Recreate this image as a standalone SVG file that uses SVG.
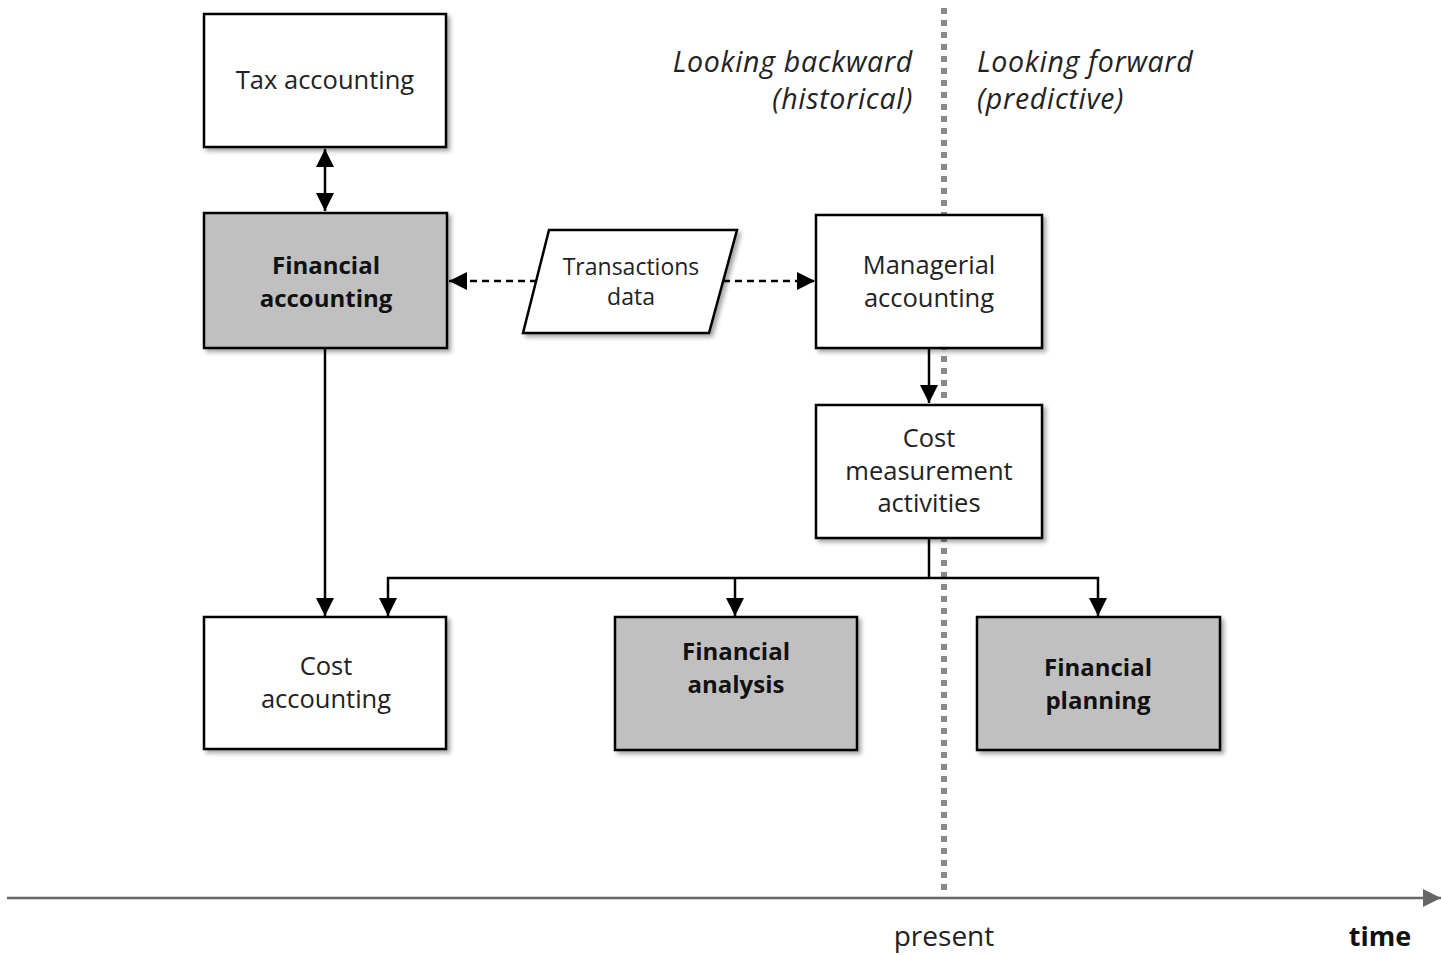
<svg xmlns="http://www.w3.org/2000/svg" width="1441" height="955" viewBox="0 0 1441 955">
<style>
.box{stroke:#000;stroke-width:2.5;filter:url(#sh)}
.w{fill:#fff}
.g{fill:#c0c0c0}
.t{font-family:"Open Sans","Liberation Sans",sans-serif;font-size:25.5px;fill:#222;text-anchor:middle}
.b{font-weight:bold;fill:#111;font-size:24px}
.it{font-family:"Open Sans","Liberation Sans",sans-serif;font-size:28.5px;letter-spacing:0.7px;font-style:italic;fill:#222}
.c{stroke:#000;stroke-width:2.5;fill:none}
.d{stroke-dasharray:7 5}
</style>
<defs>
<filter id="sh" x="-10%" y="-10%" width="125%" height="125%">
<feDropShadow dx="3" dy="3" stdDeviation="2" flood-color="#000" flood-opacity="0.35"/>
</filter>
<marker id="ahb" viewBox="0 0 10 10" refX="10" refY="5" markerWidth="18" markerHeight="18" markerUnits="userSpaceOnUse" orient="auto-start-reverse">
<path d="M0,0 L10,5 L0,10 z" fill="#000"/>
</marker>
<marker id="ta" viewBox="0 0 10 10" refX="10" refY="5" markerWidth="18" markerHeight="18" markerUnits="userSpaceOnUse" orient="auto">
<path d="M0,0 L10,5 L0,10 z" fill="#666"/>
</marker>
</defs>

<g id="timeline">
<line x1="944" y1="8" x2="944" y2="895" stroke="#888" stroke-width="6" stroke-dasharray="6 6"/>
<line x1="7" y1="898" x2="1441" y2="898" stroke="#666" stroke-width="2.5" marker-end="url(#ta)"/>
<text x="944" y="946" class="t" style="font-size:28px">present</text>
<text x="1380" y="946" class="t b" style="font-size:27px">time</text>
<text x="913" y="72" class="it" text-anchor="end">Looking backward</text>
<text x="913" y="109" class="it" text-anchor="end">(historical)</text>
<text x="977" y="72" class="it">Looking forward</text>
<text x="977" y="109" class="it">(predictive)</text>
</g>

<g id="connectors">
<line x1="325" y1="149" x2="325" y2="211" class="c" marker-start="url(#ahb)" marker-end="url(#ahb)"/>
<line x1="537" y1="281" x2="449" y2="281" class="c d" marker-end="url(#ahb)"/>
<line x1="723" y1="281" x2="815" y2="281" class="c d" marker-end="url(#ahb)"/>
<line x1="929" y1="348" x2="929" y2="403" class="c" marker-end="url(#ahb)"/>
<line x1="325" y1="348" x2="325" y2="616" class="c" marker-end="url(#ahb)"/>
<polyline points="929,538 929,578" class="c"/>
<polyline points="388,616 388,578 1098,578 1098,616" class="c" marker-start="url(#ahb)" marker-end="url(#ahb)"/>
<line x1="735" y1="578" x2="735" y2="616" class="c" marker-end="url(#ahb)"/>
</g>

<g id="tax-accounting">
<rect x="204" y="14" width="242" height="133" class="box w"/>
<text x="325" y="89" class="t">Tax accounting</text>
</g>

<g id="financial-accounting">
<rect x="204" y="213" width="243" height="135" class="box g"/>
<text x="326" y="274" class="t b">Financial</text>
<text x="326" y="307" class="t b">accounting</text>
</g>

<g id="transactions-data">
<polygon points="549,230 737,230 709,333 523,333" class="box w"/>
<text x="631" y="275" class="t" style="font-size:23px">Transactions</text>
<text x="631" y="305" class="t" style="font-size:23px">data</text>
</g>

<g id="managerial-accounting">
<rect x="816" y="215" width="226" height="133" class="box w"/>
<text x="929" y="274" class="t">Managerial</text>
<text x="929" y="307" class="t">accounting</text>
</g>

<g id="cost-measurement">
<rect x="816" y="405" width="226" height="133" class="box w"/>
<text x="929" y="447" class="t">Cost</text>
<text x="929" y="480" class="t">measurement</text>
<text x="929" y="512" class="t">activities</text>
</g>

<g id="cost-accounting">
<rect x="204" y="617" width="242" height="132" class="box w"/>
<text x="326" y="675" class="t">Cost</text>
<text x="326" y="708" class="t">accounting</text>
</g>

<g id="financial-analysis">
<rect x="615" y="617" width="242" height="133" class="box g"/>
<text x="736" y="660" class="t b">Financial</text>
<text x="736" y="693" class="t b">analysis</text>
</g>

<g id="financial-planning">
<rect x="977" y="617" width="243" height="133" class="box g"/>
<text x="1098" y="676" class="t b">Financial</text>
<text x="1098" y="709" class="t b">planning</text>
</g>
</svg>
